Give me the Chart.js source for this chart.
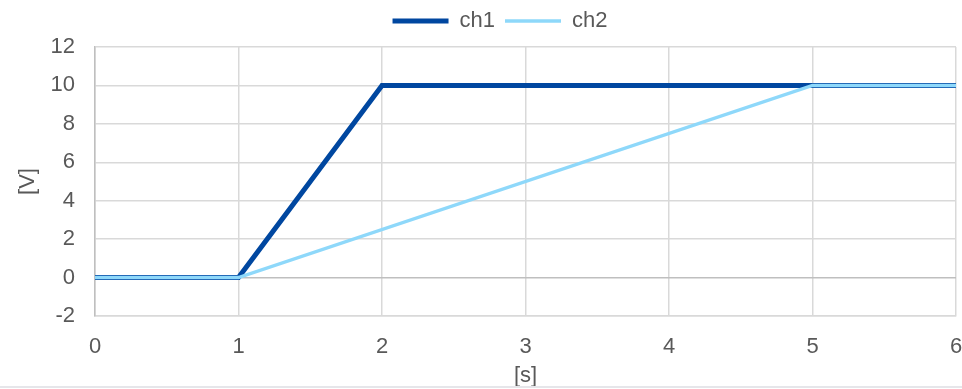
<!DOCTYPE html>
<html>
<head>
<meta charset="utf-8">
<script src="https://cdn.jsdelivr.net/npm/chart.js@4"></script>
<style>
  html, body { margin: 0; padding: 0; background: #fff; }
  #wrap { position: relative; width: 962px; height: 389px; }
</style>
</head>
<body>
<div id="wrap"><canvas id="myChart" width="962" height="389"></canvas></div>
<script>
// time [s] and voltage [V] for each channel
let ch1_t = [0, 1, 2, 6]
let ch1_v = [0, 0, 10, 10]
let ch2_t = [0, 1, 5, 6]
let ch2_v = [0, 0, 10, 10]

let font = { family: 'Liberation Sans, Arial, sans-serif', size: 22 }

function toPoints(ts, vs) {
    let pts = []
    for (let i = 0; i < ts.length; i++) {
        pts.push({ x: ts[i], y: vs[i] })
    }
    return pts
}

// a bit more room under the legend, legend nudged right, and the grey rule at the bottom
const extras = {
    id: 'extras',
    beforeUpdate(chart) {
        let lg = chart.legend
        if (lg && !lg._grown) {
            let fit = lg.fit
            lg.fit = function () {
                fit.call(this)
                this.height += 5
            }
            lg._grown = true
        }
    },
    afterLayout(chart) {
        let lg = chart.legend
        if (lg) {
            lg.left += 22
            lg.right += 22
        }
    },
    afterDraw(chart) {
        let c = chart.ctx
        c.save()
        c.fillStyle = '#fff'
        c.fillRect(0, 386, 962, 3)
        c.strokeStyle = '#e6e6ea'
        c.lineWidth = 2
        c.beginPath()
        c.moveTo(0, 387)
        c.lineTo(962, 387)
        c.stroke()
        c.restore()
    }
}

var ctx = document.getElementById('myChart').getContext('2d')
var chart = new Chart(ctx, {
    type: 'line',
    data: {
        datasets: [{
            label: 'ch1',
            data: toPoints(ch1_t, ch1_v),
            borderColor: '#0047a0',
            backgroundColor: '#0047a0',
            borderWidth: 5,
            borderCapStyle: 'round',
            pointRadius: 0,
            order: 2
        }, {
            label: 'ch2',
            data: toPoints(ch2_t, ch2_v),
            borderColor: '#8ed8fa',
            backgroundColor: '#8ed8fa',
            borderWidth: 3.5,
            borderCapStyle: 'round',
            pointRadius: 0,
            order: 1
        }]
    },
    options: {
        responsive: false,
        animation: false,
        layout: { padding: { top: 0, right: 6, left: 0, bottom: 0 } },
        plugins: {
            legend: {
                position: 'top',
                labels: {
                    usePointStyle: true,
                    pointStyle: 'line',
                    pointStyleWidth: 56,
                    color: '#595959',
                    font: font,
                    padding: 10,
                    sort: (a, b) => a.datasetIndex - b.datasetIndex
                }
            },
            tooltip: { enabled: false }
        },
        scales: {
            x: {
                type: 'linear',
                min: 0,
                max: 6,
                ticks: { stepSize: 1, color: '#595959', font: font, padding: 18 },
                grid: { color: '#d9d9d9', lineWidth: 1.5, drawTicks: false },
                border: { color: '#d9d9d9', width: 1.5 },
                title: { display: true, text: '[s]', color: '#595959', font: font, padding: 0 },
                afterFit(scale) {
                    scale.height = 73
                    scale.paddingRight = 0
                    scale.paddingLeft = 0
                }
            },
            y: {
                min: -2,
                max: 12,
                ticks: { stepSize: 2, color: '#595959', font: font, padding: 20 },
                grid: {
                    color: (c) => c.tick && c.tick.value === 0 ? '#bfbfbf' : '#d9d9d9',
                    lineWidth: 1.5,
                    drawTicks: false
                },
                border: { color: '#bfbfbf', width: 1.5 },
                title: { display: true, text: '[V]', color: '#595959', font: font, padding: { top: 15, bottom: 0 } },
                afterFit(scale) { scale.width = 95 }
            }
        }
    },
    plugins: [extras]
})
</script>
</body>
</html>
